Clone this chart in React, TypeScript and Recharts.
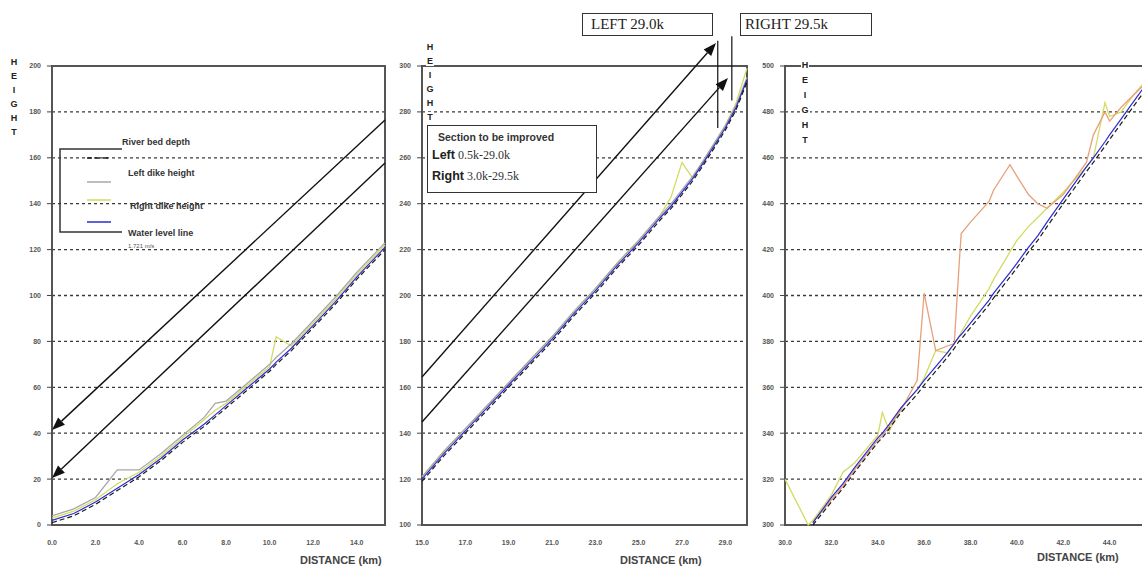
import React from "react"
import { LineChart, Line, XAxis, YAxis, CartesianGrid, ReferenceLine, ReferenceArea, Legend } from "recharts"

// panel 1 : 0 - 15 km
const p1Km = [0, 1, 2, 3, 4, 5, 6, 7, 7.5, 8, 9, 10, 10.3, 11, 12, 13, 14, 15, 15.3]
const p1Bed = [1, 4, 9, 15, 21, 28, 36, 43, 47, 51, 59, 67, 70, 76, 86, 96, 107, 117, 120]
const p1Water = [2, 5, 10, 16, 22, 29, 37, 44, 48, 52, 60, 68, 71, 77, 87, 97, 108, 118, 121]
const p1Left = [4, 7, 12, 24, 24, 31, 39, 47, 53, 54, 62, 70, 73, 79, 89, 99, 110, 120, 123]
const p1Right = [3, 6, 11, 18, 23, 30, 38, 46, 50, 53, 61, 69, 82, 78, 88, 98, 109, 119, 122]

// panel 2 : 15 - 30 km
const p2Km = [15, 16, 17, 18, 19, 20, 21, 22, 23, 24, 25, 26, 26.5, 27, 27.5, 28, 29, 29.5, 30]
const p2Bed = [119, 130, 140, 150, 160, 170, 180, 191, 201, 212, 222, 233, 238, 244, 250, 257, 272, 281, 293]
const p2Water = [120, 131, 141, 151, 161, 171, 181, 192, 202, 213, 223, 234, 239, 245, 251, 258, 273, 282, 294]
const p2Left = [121, 132, 142, 152, 162, 172, 182, 193, 203, 214, 224, 235, 240, 246, 252, 259, 274, 283, 295]
const p2Right = [121, 132, 142, 152, 162, 172, 182, 193, 203, 214, 224, 235, 243, 258, 251, 259, 274, 284, 299]

// panel 3 : 30 - 46 km
const p3Km = [30, 31, 31.2, 32, 32.5, 33, 34, 34.2, 34.5, 35, 35.7, 36, 36.5, 37, 37.3, 37.5, 37.6, 38, 38.8, 39, 39.7, 40, 40.5, 40.9, 41.3, 42, 43, 43.3, 43.8, 44, 44.5, 45, 45.5]
const p3Bed = [null, null, 300, 310, 316, 323, 336, 338, 342, 349, 357, 361, 367, 373, 377, 380, 381, 386, 396, 399, 408, 412, 419, 424, 430, 440, 454, 458, 465, 468, 475, 482, 489]
const p3Water = [null, null, 301, 312, 318, 325, 338, 340, 344, 351, 359, 363, 369, 375, 379, 382, 383, 388, 398, 401, 410, 414, 421, 426, 432, 442, 456, 460, 467, 470, 477, 484, 491]
const p3Left = [null, null, 301, 311, 317, 324, 337, 339, 343, 350, 363, 401, 376, 378, 379, 412, 427, 432, 441, 446, 457, 452, 444, 440, 438, 444, 458, 470, 480, 476, 482, 487, 492]
const p3Right = [320, 300, 302, 313, 323, 327, 339, 349, 341, 351, 359, 364, 376, 375, 379, 382, 384, 391, 403, 407, 419, 424, 430, 434, 438, 445, 456, 460, 484, 478, 480, 487, 493]

const p1XTicks = [0, 2, 4, 6, 8, 10, 12, 14]
const p2XTicks = [15, 17, 19, 21, 23, 25, 27, 29]
const p3XTicks = [30, 32, 34, 36, 38, 40, 42, 44]
const p1YTicks = [0, 20, 40, 60, 80, 100, 120, 140, 160, 180, 200]
const p2YTicks = [100, 120, 140, 160, 180, 200, 220, 240, 260, 280, 300]
const p3YTicks = [300, 320, 340, 360, 380, 400, 420, 440, 460, 480, 500]

// design lines (start -> arrow tip)
const p1Arrows = [
  { from: { x: 15.3, y: 176.5 }, to: { x: 0, y: 41.4 } },
  { from: { x: 15.3, y: 157.7 }, to: { x: 0, y: 20.5 } },
]
const p2Arrows = [
  { from: { x: 15, y: 164.5 }, to: { x: 28.57, y: 310 } },
  { from: { x: 15, y: 144.9 }, to: { x: 29.12, y: 294.8 } },
]
const p2Marks = [
  { x: 28.65, y1: 273, y2: 311 },
  { x: 29.3, y1: 285, y2: 313 },
]

const seriesNames = ["River bed depth", "Left dike height", "Right dike height", "Water level line"]

const table = (km: number[], bed: any[], water: any[], left: any[], right: any[]) =>
  km.map((k, i) => ({ km: k, bed: bed[i], water: water[i], left: left[i], right: right[i] }))

function ArrowLine(props: any) {
  const { x1, y1, x2, y2 } = props
  const a = Math.atan2(y2 - y1, x2 - x1)
  const len = 13
  const half = 5
  const bx = x2 - len * Math.cos(a)
  const by = y2 - len * Math.sin(a)
  const pts = `${x2},${y2} ${bx + half * Math.sin(a)},${by - half * Math.cos(a)} ${bx - half * Math.sin(a)},${by + half * Math.cos(a)}`
  return (
    <g>
      <line x1={x1} y1={y1} x2={bx} y2={by} stroke="#111" strokeWidth={1.4} />
      <polygon points={pts} fill="#111" />
    </g>
  )
}

function LegendBox(props: any) {
  const items = props.payload || []
  const col = (name: string) => items.find((p: any) => p.value === name) || {}
  const txt = { fontFamily: "Liberation Sans, Arial", fontSize: 9, fontWeight: 700, fill: "#333" } as any
  const rows = [
    { name: seriesNames[0], ty: 15, tx: 67, ly: 28 },
    { name: seriesNames[1], ty: 46, tx: 73, ly: 52 },
    { name: seriesNames[2], ty: 79, tx: 75, ly: 70 },
    { name: seriesNames[3], ty: 106, tx: 73, ly: 92 },
  ]
  return (
    <svg width={170} height={125}>
      <polyline points="67,19 5,19 5,102 67,102" fill="none" stroke="#333" strokeWidth={1.5} />
      {rows.map((r) => {
        const it: any = col(r.name)
        return (
          <g key={r.name}>
            <line x1={32} x2={56} y1={r.ly} y2={r.ly} stroke={it.color || "#000"} strokeWidth={1.5}
              strokeDasharray={it.payload && it.payload.strokeDasharray} />
            <text x={r.tx} y={r.ty} {...txt}>{r.name}</text>
          </g>
        )
      })}
      <text x={73} y={118} fontFamily="Liberation Sans, Arial" fontSize={6} fill="#555">1.721 m/s</text>
    </svg>
  )
}

const tickStyle = { fontSize: 7, fontWeight: 700, fill: "#555", fontFamily: "Liberation Sans, Arial" }

function Panel(props: any) {
  const { left, width, data, xDomain, xTicks, yDomain, yTicks, leftColor, arrows, marks, legend } = props
  return (
    <div style={{ position: "absolute", left, top: 0 }}>
      <LineChart width={width} height={573} data={data} margin={{ top: 66, right: 5, bottom: 0, left: 0 }}>
        <CartesianGrid vertical={false} stroke="#3a3a3a" strokeDasharray="3 3" strokeWidth={1.3} />
        <XAxis dataKey="km" type="number" domain={xDomain} ticks={xTicks} height={48} axisLine={false}
          tickLine={false} tickMargin={9} tick={tickStyle} tickFormatter={(v: number) => v.toFixed(1)} />
        <YAxis type="number" domain={yDomain} ticks={yTicks} width={52} axisLine={false} tickSize={5}
          tickLine={{ stroke: "#444" }} tickMargin={6} tick={tickStyle} />
        <ReferenceArea x1={xDomain[0]} x2={xDomain[1]} y1={yDomain[0]} y2={yDomain[1]} fill="none" fillOpacity={0}
          stroke="#555" strokeWidth={2} />
        <Line dataKey="right" name={seriesNames[2]} stroke="#d3db62" strokeWidth={1.3} dot={false} isAnimationActive={false} />
        <Line dataKey="left" name={seriesNames[1]} stroke={leftColor} strokeWidth={1.3} dot={false} isAnimationActive={false} />
        <Line dataKey="water" name={seriesNames[3]} stroke="#2b2bd0" strokeWidth={1.2} dot={false} isAnimationActive={false} />
        <Line dataKey="bed" name={seriesNames[0]} stroke="#1a1a1a" strokeWidth={1.2} strokeDasharray="5 3" dot={false} isAnimationActive={false} />
        {(arrows || []).map((a: any, i: number) => (
          <ReferenceLine key={"a" + i} segment={[a.from, a.to]} ifOverflow="visible" shape={ArrowLine} />
        ))}
        {(marks || []).map((m: any, i: number) => (
          <ReferenceLine key={"m" + i} segment={[{ x: m.x, y: m.y1 }, { x: m.x, y: m.y2 }]} ifOverflow="visible" stroke="#111" strokeWidth={1.2} />
        ))}
        {legend && (
          <Legend layout="horizontal" verticalAlign="middle" align="center" content={LegendBox}
            wrapperStyle={{ position: "absolute", left: 55, top: 130, width: 170, height: 125 }} />
        )}
      </LineChart>
    </div>
  )
}

function Height({ x, y, step }: { x: number; y: number; step: number }) {
  return (
    <div style={{ position: "absolute", left: x - 6, top: y - step / 2, width: 12, textAlign: "center",
      fontFamily: "Liberation Sans, Arial", fontWeight: 700, fontSize: 9, color: "#222", lineHeight: step + "px" }}>
      {"HEIGHT".split("").map((c, i) => (
        <div key={i}><span style={{ background: "#fff", padding: "0 1px" }}>{c}</span></div>
      ))}
    </div>
  )
}

const distStyle: any = { position: "absolute", fontFamily: "Liberation Sans, Arial", fontWeight: 700, fontSize: 11, color: "#444", whiteSpace: "nowrap" }
const boxStyle: any = { position: "absolute", border: "1.5px solid #333", background: "#fff", boxSizing: "border-box" }

export default function App() {
  return (
    <div style={{ position: "absolute", left: 0, top: 0, width: 1142, height: 573, overflow: "hidden", background: "#fff" }}>
      <Panel left={0} width={390} data={table(p1Km, p1Bed, p1Water, p1Left, p1Right)} xDomain={[0, 15.3]} xTicks={p1XTicks}
        yDomain={[0, 200]} yTicks={p1YTicks} leftColor="#a8a8a8" arrows={p1Arrows} legend />
      <Panel left={370} width={382} data={table(p2Km, p2Bed, p2Water, p2Left, p2Right)} xDomain={[15, 30]} xTicks={p2XTicks}
        yDomain={[100, 300]} yTicks={p2YTicks} leftColor="#a8a8a8" arrows={p2Arrows} marks={p2Marks} />
      <Panel left={733} width={428} data={table(p3Km, p3Bed, p3Water, p3Left, p3Right)} xDomain={[30, 46]} xTicks={p3XTicks}
        yDomain={[300, 500]} yTicks={p3YTicks} leftColor="#e8a07a" />

      <Height x={14} y={62} step={14} />
      <Height x={430} y={47} step={14} />
      <Height x={805} y={65} step={15} />

      <div style={{ ...distStyle, left: 300, top: 554 }}>DISTANCE (km)</div>
      <div style={{ ...distStyle, left: 620, top: 554 }}>DISTANCE (km)</div>
      <div style={{ ...distStyle, left: 1037, top: 551 }}>DISTANCE (km)</div>

      <div style={{ ...boxStyle, left: 427, top: 125, width: 170, height: 68, padding: "5px 0 0 4px" }}>
        <div style={{ fontFamily: "Liberation Sans, Arial", fontSize: 10.5, fontWeight: 700, color: "#333", marginLeft: 6, lineHeight: "13px" }}>Section to be improved</div>
        <div style={{ lineHeight: "19px", whiteSpace: "nowrap" }}>
          <span style={{ fontFamily: "Liberation Sans, Arial", fontSize: 12.5, fontWeight: 700, color: "#222" }}>Left</span>
          <span style={{ fontFamily: "Liberation Serif, serif", fontSize: 12, color: "#333" }}> 0.5k-29.0k</span>
        </div>
        <div style={{ lineHeight: "19px", whiteSpace: "nowrap" }}>
          <span style={{ fontFamily: "Liberation Sans, Arial", fontSize: 12.5, fontWeight: 700, color: "#222" }}>Right</span>
          <span style={{ fontFamily: "Liberation Serif, serif", fontSize: 12, color: "#333" }}> 3.0k-29.5k</span>
        </div>
      </div>

      <div style={{ ...boxStyle, left: 582, top: 13, width: 131, height: 23, fontFamily: "Liberation Serif, serif", fontSize: 15, color: "#222", lineHeight: "20px", paddingLeft: 8 }}>LEFT 29.0k</div>
      <div style={{ ...boxStyle, left: 740, top: 13, width: 132, height: 23, fontFamily: "Liberation Serif, serif", fontSize: 15, color: "#222", lineHeight: "20px", paddingLeft: 4 }}>RIGHT 29.5k</div>
    </div>
  )
}
